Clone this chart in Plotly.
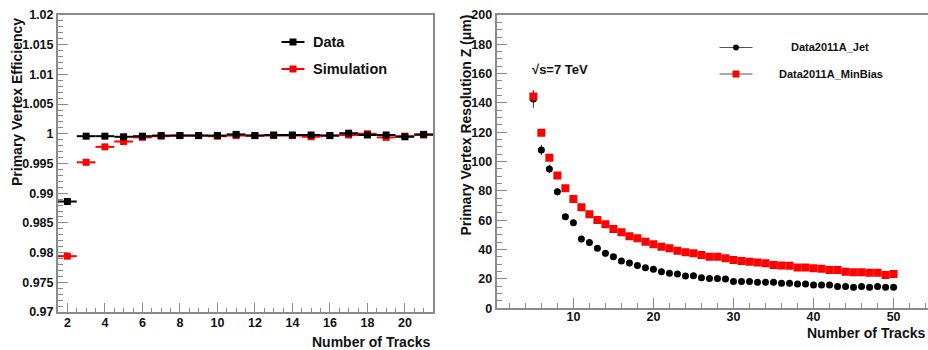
import plotly.graph_objects as go

# ---- Primary vertex efficiency vs number of tracks ----
eff_tracks = list(range(2, 22))
eff_data = [0.9886, 0.9996, 0.9996, 0.9995, 0.9996, 0.9997, 0.9997, 0.9997, 0.9997, 0.9999,
            0.9997, 0.9998, 0.9998, 0.9998, 0.9997, 1.0001, 0.9998, 0.9998, 0.9995, 0.9999]
eff_sim = [0.9794, 0.9952, 0.9978, 0.9987, 0.9994, 0.9996, 0.9997, 0.9997, 0.9996, 0.9997,
           0.9997, 0.9997, 0.9997, 0.9995, 0.9997, 0.9998, 1.0000, 0.9994, 0.9996, 0.9998]
bin_half_width = 0.5

eff_tickvals = [0.97, 0.975, 0.98, 0.985, 0.99, 0.995, 1.0, 1.005, 1.01, 1.015, 1.02]
eff_ticktext = ["0.97", "0.975", "0.98", "0.985", "0.99", "0.995", "1", "1.005", "1.01", "1.015", "1.02"]

# ---- Primary vertex resolution (z) vs number of tracks ----
res_tracks = list(range(5, 51))
res_jet = [142.7, 108.0, 95.0, 79.5, 62.5, 58.4, 47.3, 44.8, 40.9, 37.5,
           35.2, 32.3, 30.9, 29.1, 27.7, 26.6, 25.0, 23.9, 23.4, 22.0,
           22.2, 20.9, 20.4, 20.4, 20.0, 18.2, 18.2, 18.2, 17.7, 17.7,
           17.7, 17.0, 17.0, 16.6, 16.6, 15.9, 15.9, 15.9, 14.8, 14.8,
           14.3, 14.8, 14.3, 14.8, 14.3, 14.3]
res_jet_err = [6.0, 3.5, 3.0, 2.5, 2.0, 2.0, 1.5, 1.5, 1.5, 1.2,
               1.2, 1.0, 1.0, 1.0, 1.0, 1.0, 1.0, 1.0, 1.0, 1.0,
               1.0, 1.0, 1.0, 1.0, 1.0, 1.0, 1.0, 1.0, 1.0, 1.0,
               1.0, 1.0, 1.0, 1.0, 1.0, 1.0, 1.0, 1.0, 1.0, 1.0,
               1.0, 1.0, 1.0, 1.0, 1.0, 1.0]
res_minbias = [144.5, 119.7, 102.7, 90.5, 81.8, 74.5, 68.9, 64.1, 60.2, 57.3,
               54.1, 51.8, 49.1, 47.7, 45.4, 43.6, 42.0, 40.9, 39.3, 38.2,
               37.5, 36.3, 35.2, 35.2, 34.1, 32.9, 32.3, 31.8, 31.3, 30.7,
               29.5, 29.1, 29.0, 27.9, 27.9, 27.3, 27.0, 26.1, 26.1, 25.0,
               24.5, 24.5, 24.3, 24.3, 22.7, 23.4]
res_minbias_err = [4.0, 2.0, 1.5, 1.0] + [0.5] * 42

W, H = 928, 350
RED = "#ff0000"
FRAME = "#8a8a8a"
FONT = "Liberation Sans"


def px_x(p):
    return p / W


def px_y(p):
    return 1 - p / H


fig = go.Figure()

# efficiency panel: simulation under data
fig.add_trace(go.Scatter(
    x=eff_tracks, y=eff_sim, mode="markers", xaxis="x", yaxis="y",
    marker=dict(symbol="square", size=7, color=RED),
    error_x=dict(type="constant", value=bin_half_width, color=RED, thickness=2, width=0),
    showlegend=False, name="Simulation"))
fig.add_trace(go.Scatter(
    x=eff_tracks, y=eff_data, mode="markers", xaxis="x", yaxis="y",
    marker=dict(symbol="square", size=7, color="black"),
    error_x=dict(type="constant", value=bin_half_width, color="black", thickness=2, width=0),
    showlegend=False, name="Data"))

# resolution panel
fig.add_trace(go.Scatter(
    x=res_tracks, y=res_jet, mode="markers", xaxis="x2", yaxis="y2",
    marker=dict(symbol="circle", size=7, color="black"),
    error_y=dict(type="data", array=res_jet_err, color="#333333", thickness=1, width=0),
    showlegend=False, name="Data2011A_Jet"))
fig.add_trace(go.Scatter(
    x=res_tracks, y=res_minbias, mode="markers", xaxis="x2", yaxis="y2",
    marker=dict(symbol="square", size=8, color=RED),
    error_y=dict(type="data", array=res_minbias_err, color="#333333", thickness=1, width=0),
    showlegend=False, name="Data2011A_MinBias"))

# legend glyphs drawn on a pixel-space helper axis spanning the whole page
legend_glyphs = [
    dict(x=293, y=42, sym="square", size=7, color="black", line="black", half=11.5, th=2),
    dict(x=293, y=69, sym="square", size=7, color=RED, line=RED, half=11.5, th=2),
    dict(x=736, y=47.5, sym="circle", size=6, color="black", line="#555555", half=16.5, th=1),
    dict(x=736, y=74, sym="square", size=7, color=RED, line="#555555", half=16.5, th=1),
]
for g in legend_glyphs:
    fig.add_trace(go.Scatter(
        x=[g["x"]], y=[g["y"]], mode="markers", xaxis="x3", yaxis="y3",
        marker=dict(symbol=g["sym"], size=g["size"], color=g["color"]),
        error_x=dict(type="constant", value=g["half"], color=g["line"], thickness=g["th"], width=0),
        showlegend=False, hoverinfo="skip"))

tickfont = dict(family=FONT, size=12.5, color="#111111", weight="bold")
common_axis = dict(showgrid=False, zeroline=False, showline=True, linecolor=FRAME, linewidth=2,
                   ticks="inside", tickcolor=FRAME, tickwidth=1, tickfont=tickfont,
                   automargin=False)

fig.update_layout(
    template="none",
    width=W, height=H, autosize=False, margin=dict(l=0, r=0, t=0, b=0, pad=0),
    paper_bgcolor="white", plot_bgcolor="rgba(0,0,0,0)", showlegend=False,
    xaxis=dict(domain=[px_x(58), px_x(433)], range=[1.5, 21.5], anchor="y",
               tick0=2, dtick=2, ticklen=9, mirror=True, ticklabelstandoff=-2,
               minor=dict(ticks="inside", dtick=0.5, tick0=0, ticklen=4, tickcolor=FRAME),
               **common_axis),
    yaxis=dict(domain=[px_y(312), px_y(15)], range=[0.97, 1.02], anchor="x",
               tickvals=eff_tickvals, ticktext=eff_ticktext, ticklen=10, mirror=True,
               minor=dict(ticks="inside", dtick=0.001, tick0=0.97, ticklen=5, tickcolor=FRAME),
               **common_axis),
    xaxis2=dict(domain=[px_x(496.7), 1.0], range=[0.42, 54.3], anchor="y2",
                tick0=0, dtick=10, ticklen=10, mirror=True, ticklabelstandoff=-4,
                minor=dict(ticks="inside", dtick=2, tick0=0, ticklen=5, tickcolor=FRAME),
                **common_axis),
    yaxis2=dict(domain=[px_y(308.3), px_y(15)], range=[0, 200], anchor="x2",
                tick0=0, dtick=20, ticklen=10,
                minor=dict(ticks="inside", dtick=5, tick0=0, ticklen=5, tickcolor=FRAME),
                **common_axis),
    xaxis3=dict(domain=[0, 1], range=[0, W], visible=False, fixedrange=True, anchor="y3",
                automargin=False),
    yaxis3=dict(domain=[0, 1], range=[H, 0], visible=False, fixedrange=True, anchor="x3",
                automargin=False),
)

title_font = dict(family=FONT, size=14, color="#111111", weight="bold")
legend_font = dict(family=FONT, size=14.5, color="#111111", weight="bold")
small_font = dict(family=FONT, size=11, color="#111111", weight="bold")

annotations = [
    # axis titles
    dict(text="Number of Tracks", x=432, y=342, xanchor="right", yanchor="middle", font=title_font),
    dict(text="Primary Vertex Efficiency", x=17, y=102, textangle=-90,
         xanchor="center", yanchor="middle", font=title_font),
    dict(text="Number of Tracks", x=927, y=333, xanchor="right", yanchor="middle", font=title_font),
    dict(text="Primary Vertex Resolution Z (\u03bcm)", x=466, y=125.5, textangle=-90,
         xanchor="center", yanchor="middle", font=title_font),
    # legend labels
    dict(text="Data", x=311, y=42, xanchor="left", yanchor="middle", font=legend_font),
    dict(text="Simulation", x=311, y=69, xanchor="left", yanchor="middle", font=legend_font),
    dict(text="Data2011A_Jet", x=830, y=47.5, xanchor="center", yanchor="middle", font=small_font),
    dict(text="Data2011A_MinBias", x=831, y=74, xanchor="center", yanchor="middle", font=small_font),
    # energy label
    dict(text="\u221as=7 TeV", x=530, y=69, xanchor="left", yanchor="middle",
         font=dict(family=FONT, size=13, color="#111111", weight="bold")),
]
for a in annotations:
    a.update(x=px_x(a["x"]), y=px_y(a["y"]), xref="paper", yref="paper", showarrow=False)
fig.update_layout(annotations=annotations)

fig.write_html("out.html", config={"responsive": False})
